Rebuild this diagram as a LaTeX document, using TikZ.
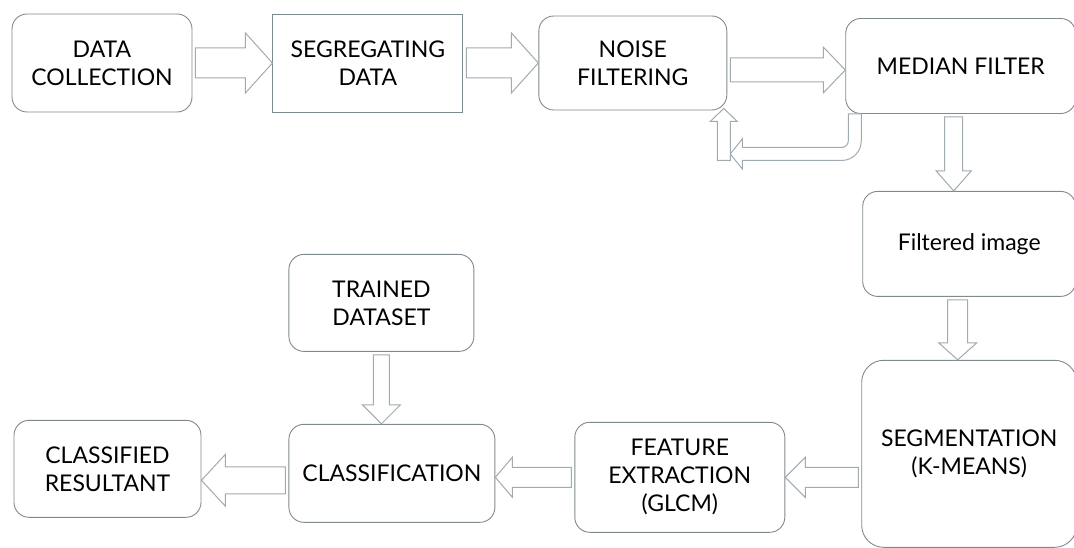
\documentclass[tikz,border=0pt]{standalone}
\usepackage{fontspec}
\setmainfont{Lato}
\usetikzlibrary{calc, positioning}
\definecolor{boxline}{RGB}{128,138,142}
\definecolor{arrowline}{RGB}{160,170,175}
\tikzset{
  box/.style = { draw = boxline, line width = 0.9pt, rounded corners = 15pt, fill = white, align = center, text = black, font = \fontsize{23}{28}\selectfont },
  sqbox/.style = { box, sharp corners },
  fatarrow/.style = { draw = arrowline, line width = 1pt, fill = white, line join = miter }
}
% outlined block arrow: tail, tip, shaft half width, head half width, head length
\newcommand{\blockarrow}[5]{%
  \coordinate (ba tail) at ($(#1)!3pt!(#2)$);
  \coordinate (ba neck) at ($(#2)!#5!(#1)$);
  \draw [fatarrow] ($(ba tail)!#3!90:(#2)$) -- ($(ba neck)!#3!90:(#2)$) -- ($(ba neck)!#4!90:(#2)$) -- (#2) -- ($(ba neck)!#4!-90:(#2)$) -- ($(ba neck)!#3!-90:(#2)$) -- ($(ba tail)!#3!-90:(#2)$) -- cycle;
}

\begin{document}
\begin{tikzpicture}[x = 1pt, y = -1pt]
	\useasboundingbox (0,0) rectangle (1074,548);

	\node [box, minimum width = 180pt, minimum height = 98pt] (dc) at (102,63) {DATA\\COLLECTION};
	\node [sqbox, minimum width = 190pt, minimum height = 98pt, right = 80pt of dc] (seg) {SEGREGATING\\DATA};
	\node [box, minimum width = 188pt, minimum height = 94pt, right = 75pt of seg] (noise) {NOISE\\FILTERING};
	\node [box, minimum width = 230pt, minimum height = 95pt, right = 118pt of noise, yshift = -3pt] (median) {MEDIAN FILTER};
	\node [box, minimum width = 213pt, minimum height = 105pt, below = 77pt of median, xshift = 8.5pt] (filt) {Filtered image};
	\node [box, rounded corners = 22pt, minimum width = 215pt, minimum height = 187pt, below = 63pt of filt] (segm) {SEGMENTATION\\(K-MEANS)};
	\node [box, minimum width = 210pt, minimum height = 110pt, left = 76pt of segm, yshift = -23.5pt] (feat) {FEATURE\\EXTRACTION\\(GLCM)};
	\node [box, minimum width = 206pt, minimum height = 98pt, left = 79pt of feat, yshift = 4pt] (cls) {CLASSIFICATION};
	\node [box, minimum width = 187pt, minimum height = 97pt, left = 87pt of cls, yshift = 4.5pt] (res) {CLASSIFIED\\RESULTANT};
	\node [box, minimum width = 185pt, minimum height = 97pt, above = 72pt of cls, xshift = -10.5pt] (trained) {TRAINED\\DATASET};

	\blockarrow{dc.east}{seg.west}{15pt}{30pt}{27pt}
	\blockarrow{seg.east}{noise.west}{15pt}{30pt}{27pt}
	\coordinate (nm) at ([yshift = -7pt]noise.east);
	\blockarrow{nm}{median.west |- nm}{12pt}{23pt}{22pt}
	\coordinate (mf) at ([xshift = -7pt]median.south);
	\blockarrow{mf}{filt.north -| mf}{9pt}{17.5pt}{20pt}
	\coordinate (fs) at ([xshift = -11.5pt]filt.south);
	\blockarrow{fs}{segm.north -| fs}{10pt}{19pt}{17pt}
	\blockarrow{segm.west |- feat.east}{feat.east}{10pt}{20pt}{20pt}
	\blockarrow{feat.west}{cls.east |- feat.west}{10pt}{20pt}{17pt}
	\coordinate (cr) at ([yshift = -7pt]cls.west);
	\blockarrow{cr}{res.east |- cr}{13.5pt}{26pt}{24pt}
	\blockarrow{trained.south}{cls.north -| trained.south}{8pt}{19pt}{19pt}

	% loop back from the median filter
	\draw [fatarrow] ($(median.south west)+(16,0)$) -- ++(0,27) .. controls +(0,10.8) and +(10.8,0) .. ++(-19.5,19.5) -- ++(-99.5,0) -- ++(0,8.5) -- ++(-12,-15) -- ++(12,-15) -- ++(0,8.5) -- ++(99.5,0) .. controls +(3.6,0) and +(0,3.6) .. ++(6.5,-6.5) -- ++(0,-27) -- cycle;
	\coordinate (fbtip) at ([xshift = -3.5pt, yshift = 2pt]noise.south east);
	\coordinate (fbfoot) at ([yshift = -55pt]fbtip);
	\blockarrow{fbfoot}{fbtip}{6.5pt}{13.5pt}{13pt}
\end{tikzpicture}
\end{document}
